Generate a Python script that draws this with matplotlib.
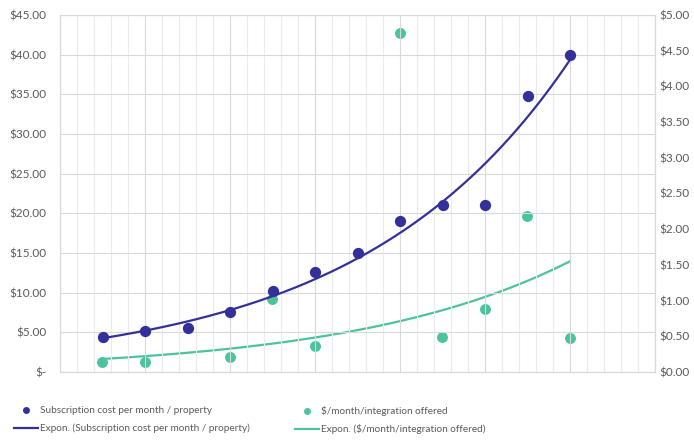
import numpy as np
import matplotlib
matplotlib.use("Agg")
import matplotlib.pyplot as plt
from matplotlib.ticker import MultipleLocator, FuncFormatter
from matplotlib.lines import Line2D

plt.rcParams['font.family'] = ['Lato', 'DejaVu Sans']

# Data
x_sub = [1, 2, 3, 4, 5, 6, 7, 8, 9, 10, 11, 12]
sub_cost = [4.4, 5.2, 5.6, 7.6, 10.2, 12.6, 15.0, 19.0, 21.1, 21.1, 34.8, 40.0]
x_int = [1, 2, 4, 5, 6, 8, 9, 10, 11, 12]
int_cost = [0.14, 0.14, 0.21, 1.02, 0.37, 4.75, 0.49, 0.88, 2.18, 0.47]

label_sub = "Subscription cost per month / property"
label_int = "$/month/integration offered"

BLUE = "#34309a"
GREEN = "#4cc49a"
TXT = "#595959"

fig = plt.figure(figsize=(6.94, 4.42), dpi=100)
ax = fig.add_axes([60/694, 1-372/442, 595/694, 357/442])
ax2 = ax.twinx()

# exponential trendlines
def expfit(x, y):
    x = np.asarray(x, float); y = np.asarray(y, float)
    b, a = np.polyfit(x, np.log(y), 1)
    xs = np.linspace(x.min(), x.max(), 200)
    return xs, np.exp(a) * np.exp(b * xs)

xs1, ys1 = expfit(x_sub, sub_cost)
xs2, ys2 = expfit(x_int, int_cost)

ax.set_xlim(0, 14)
ax.set_ylim(0, 45)
ax2.set_ylim(0, 5)

ax.xaxis.set_major_locator(MultipleLocator(2))
ax.xaxis.set_minor_locator(MultipleLocator(0.4))
ax.yaxis.set_major_locator(MultipleLocator(5))
ax2.yaxis.set_major_locator(MultipleLocator(0.5))

ax.grid(True, which='major', axis='both', color='#d9d9d9', lw=0.8)
ax.grid(True, which='minor', axis='x', color='#ebebeb', lw=0.8)
ax.set_axisbelow(True)

ax.tick_params(axis='x', which='both', length=0, labelbottom=False)
ax.tick_params(axis='y', length=0, labelsize=8.5, labelcolor=TXT, pad=10)
ax2.tick_params(axis='y', length=0, labelsize=8.5, labelcolor=TXT, pad=3)

ax.yaxis.set_major_formatter(FuncFormatter(lambda v, p: "$-" if v == 0 else f"${v:.2f}"))
ax2.yaxis.set_major_formatter(FuncFormatter(lambda v, p: f"${v:.2f}"))

for a in (ax, ax2):
    for s in a.spines.values():
        s.set_color('#d9d9d9')
        s.set_linewidth(0.8)

ax2.plot(xs2, ys2, color=GREEN, lw=1.6, zorder=2)
ax2.scatter(x_int, int_cost, s=62, color=GREEN, zorder=3, linewidths=0)

ax.plot(xs1, ys1, color=BLUE, lw=1.6, zorder=4)
ax.scatter(x_sub, sub_cost, s=66, color=BLUE, zorder=5, linewidths=0)
ax.set_zorder(ax2.get_zorder() + 1)
ax.patch.set_visible(False)

h1 = [Line2D([], [], ls='none', marker='o', ms=4, color=BLUE),
      Line2D([], [], color=BLUE, lw=1.6)]
h2 = [Line2D([], [], ls='none', marker='o', ms=4, color=GREEN),
      Line2D([], [], color=GREEN, lw=1.6)]
leg_kw = dict(frameon=False, labelcolor=TXT, handlelength=2.4,
              handletextpad=0.2, labelspacing=0.85, borderaxespad=0, borderpad=0,
              prop={'family': ['Lato', 'DejaVu Sans'], 'size': 7.2})
l1 = fig.legend(h1, [label_sub, f"Expon. ({label_sub})"], loc='upper left',
                bbox_to_anchor=(14/694, 1-406/442), **leg_kw)
l2 = fig.legend(h2, [label_int, f"Expon. ({label_int})"], loc='upper left',
                bbox_to_anchor=(295/694, 1-406/442), **leg_kw)

fig.savefig("out.png", dpi=100)
